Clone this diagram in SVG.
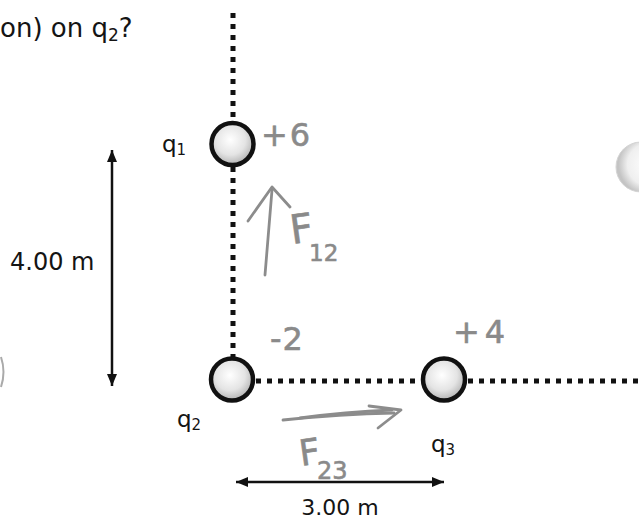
<svg xmlns="http://www.w3.org/2000/svg" width="639" height="523" viewBox="0 0 639 523">
  <defs>
    <radialGradient id="ball" cx="45%" cy="40%" r="60%">
      <stop offset="0" stop-color="#ffffff"/>
      <stop offset="0.6" stop-color="#e4e4e4"/>
      <stop offset="1" stop-color="#b2b2b2"/>
    </radialGradient>
    <radialGradient id="faint" cx="65%" cy="45%" r="60%">
      <stop offset="0" stop-color="#ffffff"/>
      <stop offset="0.7" stop-color="#efefef"/>
      <stop offset="1" stop-color="#c4c4c4"/>
    </radialGradient>
    <marker id="head" viewBox="0 0 12 10" refX="12" refY="5" markerWidth="12" markerHeight="10" markerUnits="userSpaceOnUse" orient="auto-start-reverse">
      <path d="M0,0 L12,5 L0,10 Z" fill="#111"/>
    </marker>
  </defs>
  <style>
    .print { font-family: "DejaVu Sans", "Open Sans", sans-serif; fill: #141414; }
    .dots { stroke: #111; stroke-width: 5; stroke-dasharray: 5 6; fill: none; }
    .ball { fill: url(#ball); stroke: #111; stroke-width: 4.5; }
    .dim { stroke: #111; stroke-width: 2.5; fill: none; }
    .pencil { font-family: "DejaVu Sans", "Open Sans", sans-serif; font-weight: 400; fill: #8a8a8a; stroke: #8a8a8a; stroke-width: 0.6; }
    .pstroke { stroke: #8c8c8c; stroke-width: 2.8; fill: none; stroke-linecap: round; stroke-linejoin: round; }
  </style>

  <rect width="639" height="523" fill="#ffffff"/>

  <!-- question fragment -->
  <text class="print" x="0" y="37" font-size="26">on) on q<tspan font-size="17" dy="4">2</tspan><tspan dy="-4">?</tspan></text>

  <!-- faint background marks -->
  <circle cx="641" cy="167" r="25" fill="url(#faint)" stroke="#d4d4d4" stroke-width="1"/>
  <path d="M1,357 Q6,372 1,387" stroke="#aaa" stroke-width="2" fill="none"/>

  <!-- connectors -->
  <g id="connectors">
    <line class="dots" x1="233" y1="13" x2="233" y2="122"/>
    <line class="dots" x1="233" y1="167" x2="233" y2="357"/>
    <line class="dots" x1="256" y1="381" x2="421" y2="381"/>
    <line class="dots" x1="468" y1="381" x2="639" y2="381"/>
    <line class="dim" x1="112" y1="150" x2="112" y2="386" marker-start="url(#head)" marker-end="url(#head)"/>
    <line class="dim" x1="236" y1="482" x2="444" y2="482" marker-start="url(#head)" marker-end="url(#head)"/>
  </g>

  <!-- dimension labels -->
  <text class="print" x="10" y="270" font-size="24">4.00 m</text>
  <text class="print" x="340" y="515" font-size="22" text-anchor="middle">3.00 m</text>

  <g id="node-q1">
    <circle class="ball" cx="232.5" cy="144" r="21"/>
    <text class="print" x="162" y="152" font-size="23">q<tspan font-size="15" dy="3">1</tspan></text>
  </g>
  <g id="node-q2">
    <circle class="ball" cx="232" cy="379.5" r="21"/>
    <text class="print" x="177" y="427" font-size="23">q<tspan font-size="15" dy="3">2</tspan></text>
  </g>
  <g id="node-q3">
    <circle class="ball" cx="444" cy="379.5" r="21"/>
    <text class="print" x="431" y="452" font-size="23">q<tspan font-size="15" dy="3">3</tspan></text>
  </g>

  <!-- pencil annotations -->
  <g id="annotations">
    <text class="pencil" x="261" y="146" font-size="32" letter-spacing="2">+6</text>
    <path class="pstroke" d="M265,275 L272,190"/>
    <path class="pstroke" d="M248,221 L272,187 L290,207"/>
    <text class="pencil" x="292" y="244" font-size="40" transform="rotate(-8 292 244)">F</text>
    <text class="pencil" x="309" y="261" font-size="23">12</text>
    <text class="pencil" x="270" y="350" font-size="32" letter-spacing="1">-2</text>
    <text class="pencil" x="453" y="343" font-size="32" letter-spacing="5">+4</text>
    <path class="pstroke" d="M283,420 Q340,414 394,413"/>
    <path class="pstroke" d="M300,418 Q345,412 392,410" stroke-width="1.5"/>
    <path class="pstroke" d="M369,406 L401,410 L378,428"/>
    <text class="pencil" x="301" y="466" font-size="36" transform="rotate(-8 301 466)">F</text>
    <text class="pencil" x="317" y="479" font-size="24">23</text>
  </g>
</svg>
